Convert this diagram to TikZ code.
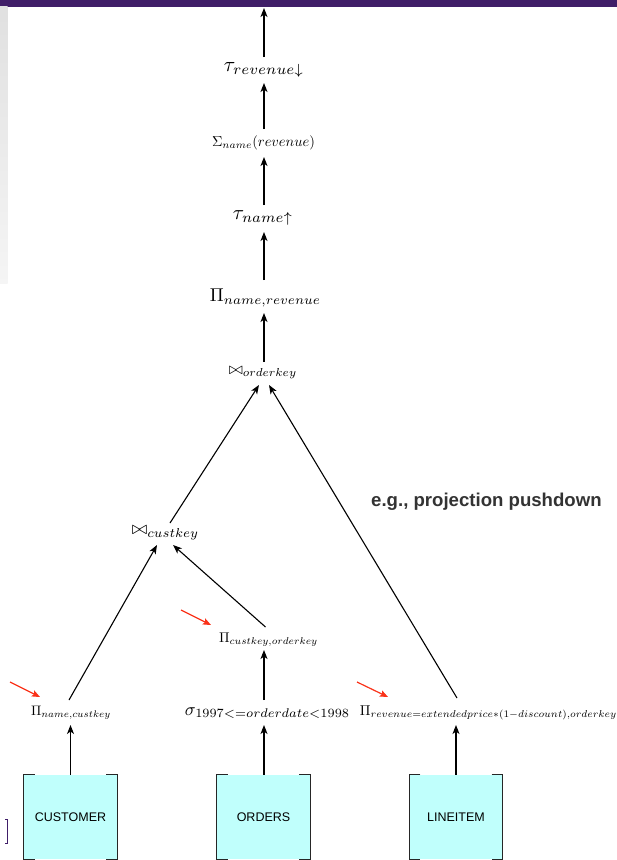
\documentclass[tikz,border=0pt]{standalone}
\usepackage{fontspec}
\setsansfont{Liberation Sans}
\usepackage{graphicx}
\usetikzlibrary{arrows.meta,calc}
\definecolor{barpurple}{RGB}{64,30,104}
\definecolor{tcyan}{RGB}{192,255,252}
\definecolor{redarr}{RGB}{250,50,25}
\definecolor{notegray}{RGB}{51,51,51}
\begin{document}
\begin{tikzpicture}[x=1pt,y=-1pt,
  op/.style={inner sep=0pt,outer sep=0pt},
  arr/.style={line width=1.1pt,-{Stealth[length=9pt,width=7pt,inset=2.5pt]}},
  redarrow/.style={line width=1.2pt,draw=redarr,-{Stealth[length=8pt,width=6.5pt,inset=1.5pt]}},
  tablebox/.style={fill=tcyan,minimum width=93pt,minimum height=84pt,inner sep=0pt,font=\sffamily\fontsize{12.5}{14}\selectfont},
  brk/.style={line width=1.1pt,draw=black!85},
  note/.style={anchor=west,inner sep=0pt,font=\sffamily\bfseries\fontsize{18.6}{22}\selectfont,text=notegray}]
\useasboundingbox (0,0) rectangle (617,860);
\fill[white] (0,0) rectangle (617,860);
\fill[barpurple] (0,0) rectangle (617,6.5);
\shade[top color=black!12,bottom color=black!4] (0,6.5) rectangle (7.5,283);
\draw[barpurple,line width=0.8pt] (5,819) -- (7.5,819) -- (7.5,843) -- (5,843);

% operator nodes
\coordinate (topend) at (264,8);
\node[op] (trev) at (264,70) {\resizebox{80pt}{!}{$\tau_{revenue\downarrow}$}};
\node[op] (sig) at (263.5,143) {\resizebox{103pt}{!}{$\Sigma_{name}(revenue)$}};
\node[op] (tname) at (263,218) {\resizebox{60pt}{!}{$\tau_{name\uparrow}$}};
\node[op] (pnr) at (265.5,298) {\resizebox{111pt}{!}{$\Pi_{name,revenue}$}};
\node[op] (jo) at (263,373) {\resizebox{68pt}{!}{$\bowtie_{orderkey}$}};
\node[op] (jc) at (165.5,533) {\resizebox{67pt}{!}{$\bowtie_{custkey}$}};
\node[op] (pco) at (268.5,640) {\resizebox{99pt}{!}{$\Pi_{custkey,orderkey}$}};
\node[op] (pnc) at (71,713) {\resizebox{80pt}{!}{$\Pi_{name,custkey}$}};
\node[op] (sel) at (267.5,713) {\resizebox{165pt}{!}{$\sigma_{1997<=orderdate<1998}$}};
\node[op] (plin) at (488.5,713) {\resizebox{257pt}{!}{$\Pi_{revenue=extendedprice\ast(1-discount),orderkey}$}};

\node[note] (nt) at (371,502) {e.g., projection pushdown};

% tables
\node[tablebox] (cust) at (70.5,817) {CUSTOMER};
\node[tablebox] (ord) at (263.5,817) {ORDERS};
\node[tablebox] (lin) at (456,817) {LINEITEM};
\foreach \n in {cust,ord,lin}{
  \draw[brk] ([xshift=11pt]\n.north west) -- (\n.north west) -- (\n.south west) -- ([xshift=11pt]\n.south west);
  \draw[brk] ([xshift=-11pt]\n.north east) -- (\n.north east) -- (\n.south east) -- ([xshift=-11pt]\n.south east);
}

% vertical chain
\draw[arr] ($(trev.center)+(0,-13)$) -- (topend);
\draw[arr] ($(sig.center -| trev.center)+(0,-14)$) -- ($(trev.center)+(0,13)$);
\draw[arr] ($(tname.center -| trev.center)+(0,-13)$) -- ($(sig.center -| trev.center)+(0,14)$);
\draw[arr] ($(pnr.center -| trev.center)+(0,-18)$) -- ($(tname.center -| trev.center)+(0,14)$);
\draw[arr] ($(jo.center -| trev.center)+(0,-11)$) -- ($(pnr.center -| trev.center)+(0,15)$);

% joins
\draw[arr] ($(jc.center)+(4.5,-10)$) -- ($(jo.center)+(-4,12)$);
\draw[arr] ($(lin.north |- plin.center)+(1,-15)$) -- ($(jo.center)+(6,12)$);
\draw[arr] ($(pnc.center)+(-2,-13)$) -- ($(jc.center)+(-8.5,12)$);
\draw[arr] ($(ord.north |- pco.center)+(2,-13)$) -- ($(jc.center)+(7.5,12)$);

% lower chain
\draw[arr] ($(ord.north |- sel.center)+(0.5,-13)$) -- ($(ord.north |- pco.center)+(0.5,10)$);
\draw[arr] (cust.north) -- ($(cust.north |- pnc.center)+(0,12)$);
\draw[arr] ([xshift=0.5pt]ord.north) -- ($(ord.north |- sel.center)+(0.5,12)$);
\draw[arr] (lin.north) -- ($(lin.north |- plin.center)+(0,12)$);

% red markers
\draw[redarrow] ($(pnc.center)+(-61,-31)$) -- ($(pnc.center)+(-31,-16)$);
\draw[redarrow] ($(pco.center)+(-87.5,-30)$) -- ($(pco.center)+(-57.5,-15)$);
\draw[redarrow] ($(plin.center)+(-131.5,-31)$) -- ($(plin.center)+(-100.5,-16)$);
\end{tikzpicture}
\end{document}
